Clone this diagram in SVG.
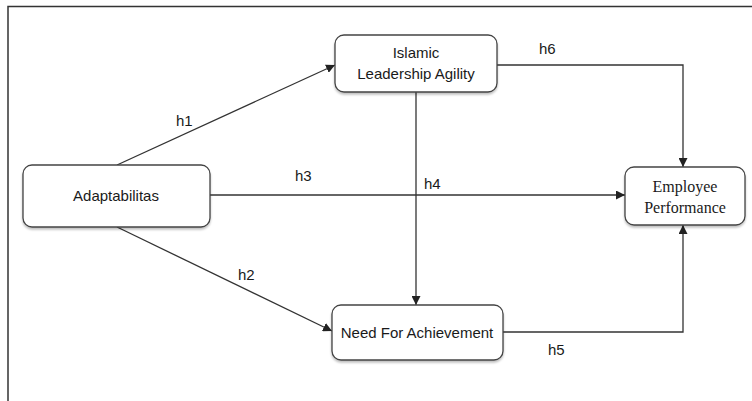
<svg xmlns="http://www.w3.org/2000/svg" width="752" height="401" viewBox="0 0 752 401">
  <defs>
    <marker id="arrow" viewBox="0 0 10 10" refX="10" refY="5" markerWidth="9" markerHeight="9" markerUnits="userSpaceOnUse" orient="auto">
      <path d="M0,0 L10,5 L0,10 z" fill="#222"/>
    </marker>
    <filter id="shadow" x="-10%" y="-10%" width="120%" height="130%">
      <feDropShadow dx="0" dy="2" stdDeviation="1.2" flood-color="#000" flood-opacity="0.25"/>
    </filter>
  </defs>
  <style>
    .frame { fill: none; stroke: #333; stroke-width: 1.5; }
    .box { fill: #fff; stroke: #444; stroke-width: 1.3; filter: url(#shadow); }
    .edge { fill: none; stroke: #333; stroke-width: 1.3; marker-end: url(#arrow); }
    .lbl { font-family: "Liberation Sans", Arial, sans-serif; font-size: 15px; fill: #1a1a1a; }
    .node { font-family: "Liberation Sans", Arial, sans-serif; font-size: 15px; fill: #1a1a1a; text-anchor: middle; }
    .serif { font-family: "Liberation Serif", "Times New Roman", serif; font-size: 16px; fill: #1a1a1a; text-anchor: middle; }
  </style>
  <rect width="752" height="401" fill="#fff"/>
  <!-- outer frame: top and left edges only are within the canvas -->
  <path class="frame" d="M8,410 L8,6.5 L760,6.5"/>

  <g id="connectors">
    <path class="edge" d="M117,165 L335,65"/>
    <path class="edge" d="M210,195 L625,195"/>
    <path class="edge" d="M117,227 L332,331"/>
    <path class="edge" d="M416,92 L416,305"/>
    <path class="edge" d="M497,65 L683,65 L683,167"/>
    <path class="edge" d="M503,332 L683,332 L683,225"/>
    <text class="lbl" x="176" y="126">h1</text>
    <text class="lbl" x="238" y="280">h2</text>
    <text class="lbl" x="295" y="181">h3</text>
    <text class="lbl" x="424" y="189">h4</text>
    <text class="lbl" x="548" y="355">h5</text>
    <text class="lbl" x="539" y="54">h6</text>
  </g>

  <g id="islamic-leadership-agility">
    <rect class="box" x="335" y="35" width="162" height="57" rx="9"/>
    <text class="node" x="416" y="58">Islamic</text>
    <text class="node" x="416" y="79">Leadership Agility</text>
  </g>

  <g id="adaptabilitas">
    <rect class="box" x="23" y="165" width="187" height="62" rx="9"/>
    <text class="node" x="116" y="201">Adaptabilitas</text>
  </g>

  <g id="employee-performance">
    <rect class="box" x="625" y="167" width="120" height="58" rx="9"/>
    <text class="serif" x="685" y="192">Employee</text>
    <text class="serif" x="685" y="213">Performance</text>
  </g>

  <g id="need-for-achievement">
    <rect class="box" x="332" y="305" width="171" height="55" rx="9"/>
    <text class="node" x="417" y="338">Need For Achievement</text>
  </g>
</svg>
